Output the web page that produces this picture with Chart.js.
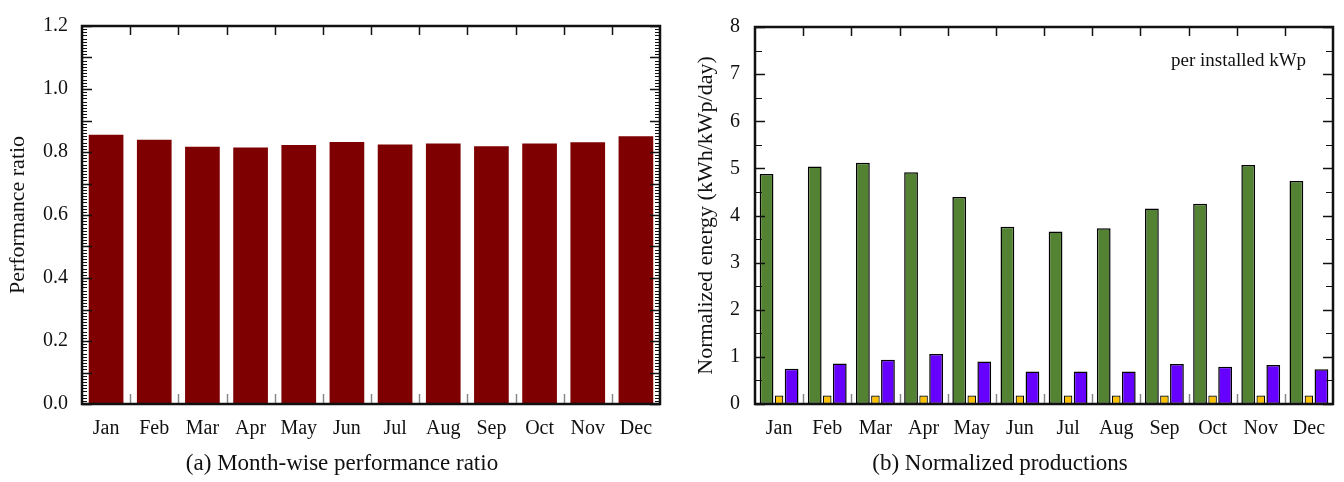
<!DOCTYPE html>
<html>
<head>
<meta charset="utf-8">
<script src="https://cdn.jsdelivr.net/npm/chart.js@4.4.1/dist/chart.umd.min.js"></script>
<style>
  body { margin: 0; background: #fff; }
  #wrap { position: relative; width: 1344px; height: 482px; font-family: "Liberation Serif", serif; color: #111; }
  .box { position: absolute; top: 0; height: 452px; }
  .cap { position: absolute; top: 450px; font-size: 23px; white-space: nowrap; transform: translateX(-50%); }
  .note { position: absolute; left: 1171px; top: 49px; font-size: 19px; white-space: nowrap; }
</style>
</head>
<body>
<div id="wrap">
  <div class="box" style="left:0;width:672px"><canvas id="ratioChart"></canvas></div>
  <div class="box" style="left:672px;width:672px"><canvas id="energyChart"></canvas></div>
  <div class="cap" style="left:342px">(a) Month-wise performance ratio</div>
  <div class="cap" style="left:1000px">(b) Normalized productions</div>
  <div class="note">per installed kWp</div>
</div>
<script>
var months = ["Jan","Feb","Mar","Apr","May","Jun","Jul","Aug","Sep","Oct","Nov","Dec"];

// (a) performance ratio
var perfRatio = [0.855, 0.839, 0.817, 0.814, 0.822, 0.832, 0.824, 0.827, 0.818, 0.827, 0.831, 0.850];

// (b) normalized energy, kWh/kWp/day
var finalYield = [4.88, 5.04, 5.12, 4.92, 4.39, 3.76, 3.66, 3.73, 4.15, 4.25, 5.07, 4.73];
var systemLoss = [0.18, 0.18, 0.18, 0.18, 0.18, 0.18, 0.18, 0.18, 0.18, 0.18, 0.18, 0.18];
var collectionLoss = [0.75, 0.86, 0.94, 1.06, 0.90, 0.69, 0.69, 0.69, 0.85, 0.79, 0.83, 0.74];

var serif = "'Liberation Serif', 'Times New Roman', serif";

// box frame + inward tick marks like the original plots
var frameTicks = {
    id: 'frameTicks',
    afterDatasetsDraw: function(chart, args, opts) {
        var ctx = chart.ctx, a = chart.chartArea;
        var x = chart.scales.x, y = chart.scales.y;
        function line(x1, y1, x2, y2) {
            ctx.beginPath(); ctx.moveTo(x1, y1); ctx.lineTo(x2, y2); ctx.stroke();
        }
        ctx.save();
        ctx.strokeStyle = '#111';
        ctx.lineWidth = 1;
        var n = Math.round((y.max - y.min) / opts.minor);
        var per = Math.round(opts.major / opts.minor);
        for (var i = 0; i <= n; i++) {
            var py = Math.round(y.getPixelForValue(y.min + i * opts.minor)) + 0.5;
            var len = (i % per === 0) ? opts.majorLen : opts.minorLen;
            ctx.lineWidth = (i % per === 0) ? 1.5 : 1;
            line(a.left, py, a.left + len, py);
            line(a.right, py, a.right - len, py);
        }
        ctx.lineWidth = 1.5;
        for (var j = 1; j < chart.data.labels.length; j++) {
            var px = Math.round((x.getPixelForValue(j - 1) + x.getPixelForValue(j)) / 2) + 0.5;
            ctx.strokeStyle = '#111';
            line(px, a.top, px, a.top + 9);
            ctx.strokeStyle = '#888';
            line(px, a.bottom, px, a.bottom - 10);
        }
        ctx.strokeStyle = '#111';
        ctx.lineWidth = 2.5;
        ctx.strokeRect(a.left, a.top, a.right - a.left, a.bottom - a.top);
        ctx.restore();
    }
};

function axisX(height) {
    return {
        grid: { display: false, drawTicks: false },
        border: { display: false },
        ticks: { color: '#111', font: { family: serif, size: 20 }, padding: 13, maxRotation: 0, autoSkip: false },
        afterFit: function(s) { s.height = height; }
    };
}

new Chart(document.getElementById("ratioChart"), {
    type: 'bar',
    data: {
        labels: months,
        datasets: [{
            label: "Performance ratio",
            data: perfRatio,
            backgroundColor: "#7e0000",
            borderWidth: 0,
            categoryPercentage: 1,
            barPercentage: 0.72
        }]
    },
    options: {
        responsive: true,
        maintainAspectRatio: false,
        animation: false,
        layout: { padding: { top: 16, right: 12, left: 0, bottom: 0 } },
        plugins: {
            legend: { display: false },
            tooltip: { enabled: false },
            frameTicks: { minor: 0.01, major: 0.1, minorLen: 5, majorLen: 10 }
        },
        scales: {
            x: axisX(48),
            y: {
                min: 0, max: 1.2,
                grid: { display: false, drawTicks: false },
                border: { display: false },
                ticks: {
                    stepSize: 0.2, color: '#111', padding: 14,
                    font: { family: serif, size: 20 },
                    callback: function(v) { return v.toFixed(1); }
                },
                title: {
                    display: true, text: "Performance ratio", color: '#111',
                    font: { family: serif, size: 22 }, padding: { top: 5, bottom: 0 }
                },
                afterFit: function(s) { s.width = 82; }
            }
        }
    },
    plugins: [frameTicks]
});

new Chart(document.getElementById("energyChart"), {
    type: 'bar',
    data: {
        labels: months,
        datasets: [
            {
                label: "Yf",
                data: finalYield,
                backgroundColor: "#538233",
                borderColor: "#000",
                borderWidth: 1.5,
                borderSkipped: false,
                categoryPercentage: 0.78,
                barPercentage: 1.1
            },
            {
                label: "Ls",
                data: systemLoss,
                backgroundColor: "#ffc000",
                borderColor: "#000",
                borderWidth: 1.2,
                borderSkipped: false,
                categoryPercentage: 0.78,
                barPercentage: 0.68
            },
            {
                label: "Lc",
                data: collectionLoss,
                backgroundColor: "#6600ff",
                borderColor: "#000",
                borderWidth: 1.5,
                borderSkipped: false,
                categoryPercentage: 0.78,
                barPercentage: 1.1
            }
        ]
    },
    options: {
        responsive: true,
        maintainAspectRatio: false,
        animation: false,
        layout: { padding: { top: 16, right: 11, left: 0, bottom: 0 } },
        plugins: {
            legend: { display: false },
            tooltip: { enabled: false },
            frameTicks: { minor: 0.5, major: 1, minorLen: 7, majorLen: 10 }
        },
        scales: {
            x: axisX(48),
            y: {
                min: 0, max: 8,
                grid: { display: false, drawTicks: false },
                border: { display: false },
                ticks: { stepSize: 1, color: '#111', padding: 15, font: { family: serif, size: 20 } },
                title: {
                    display: true, text: "Normalized energy (kWh/kWp/day)", color: '#111',
                    font: { family: serif, size: 22 }, padding: { top: 21, bottom: 0 }
                },
                afterFit: function(s) { s.width = 83; }
            }
        }
    },
    plugins: [frameTicks]
});
</script>
</body>
</html>
